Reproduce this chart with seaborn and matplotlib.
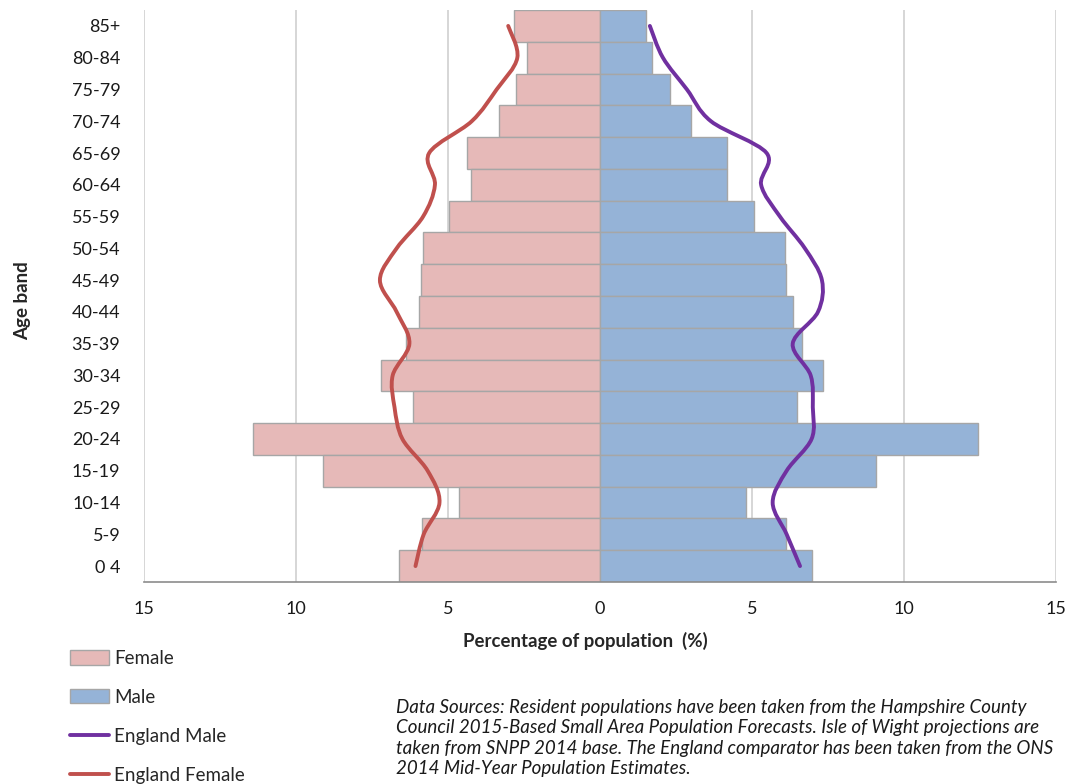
import numpy as np
import pandas as pd
import seaborn as sns
import matplotlib.pyplot as plt
from matplotlib.path import Path
from matplotlib.patches import PathPatch, Patch
from matplotlib.lines import Line2D

sns.set_theme(style="white")
plt.rcParams["font.family"] = ["Lato", "DejaVu Sans"]

# =========================
# Data (top row first)
# =========================
age_bands = ["85+", "80-84", "75-79", "70-74", "65-69", "60-64", "55-59", "50-54",
             "45-49", "40-44", "35-39", "30-34", "25-29", "20-24", "15-19",
             "10-14", "5-9", "0 4"]
female = [2.83, 2.39, 2.77, 3.33, 4.39, 4.25, 4.98, 5.83, 5.90, 5.94,
          6.38, 7.20, 6.14, 11.41, 9.12, 4.64, 5.87, 6.62]
male = [1.50, 1.70, 2.29, 2.98, 4.17, 4.19, 5.08, 6.09, 6.12, 6.34,
        6.64, 7.33, 6.47, 12.44, 9.08, 4.80, 6.12, 6.97]
england_female = [3.02, 2.72, 3.40, 4.22, 5.62, 5.43, 5.82, 6.69, 7.24, 6.69,
                  6.27, 6.82, 6.76, 6.50, 5.67, 5.28, 5.80, 6.07]
england_male = [1.64, 2.07, 2.86, 3.65, 5.48, 5.30, 5.92, 6.74, 7.30, 7.17,
                6.34, 6.93, 7.00, 6.96, 6.14, 5.68, 6.14, 6.58]
x_ticks = [-15, -10, -5, 0, 5, 10, 15]

female_col = "#e6b9b8"
male_col = "#95b3d7"
eng_male_col = "#7030a0"
eng_female_col = "#c0504d"
edge_col = "#a6a6a6"

df = pd.DataFrame({"band": age_bands * 2,
                   "pct": [-v for v in female] + male,
                   "sex": ["Female"] * len(female) + ["Male"] * len(male)})


def smooth_path(xs, ys):
    # Excel-style smoothed line: Catmull-Rom segments as cubic Beziers
    pts = np.column_stack([xs, ys]).astype(float)
    ext = np.vstack([pts[0], pts, pts[-1]])
    verts = [pts[0]]
    codes = [Path.MOVETO]
    for i in range(1, len(ext) - 2):
        p0, p1, p2, p3 = ext[i - 1], ext[i], ext[i + 1], ext[i + 2]
        verts += [p1 + (p2 - p0) / 6, p2 - (p3 - p1) / 6, p2]
        codes += [Path.CURVE4] * 3
    return Path(verts, codes)


fig = plt.figure(figsize=(10.7, 7.84), dpi=100)
ax = fig.add_axes([0.1346, 0.2577, 0.8523, 0.7295])

sns.barplot(data=df, x="pct", y="band", hue="sex", order=age_bands,
            palette={"Female": female_col, "Male": male_col}, saturation=1,
            orient="h", width=1.0, dodge=False, edgecolor=edge_col,
            linewidth=1.0, legend=False, ax=ax, zorder=2)

ypos = np.arange(len(age_bands))
ax.add_patch(PathPatch(smooth_path(england_male, ypos), facecolor="none",
                       edgecolor=eng_male_col, lw=2.8, capstyle="round", zorder=4))
ax.add_patch(PathPatch(smooth_path([-v for v in england_female], ypos), facecolor="none",
                       edgecolor=eng_female_col, lw=2.8, capstyle="round", zorder=4))

ax.set_xlim(-15, 15)
ax.set_ylim(len(age_bands) - 0.5, -0.5)
ax.set_xticks(x_ticks)
ax.set_xticklabels([str(abs(t)) for t in x_ticks], fontsize=13, color="#1a1a1a")
ax.tick_params(axis="x", length=6, width=1, color="#bfbfbf", direction="out", pad=8)
ax.tick_params(axis="y", length=0, labelsize=13, labelcolor="#1a1a1a", pad=17)
ax.xaxis.grid(True, color="#d0d0d0", lw=1.2, zorder=0)
ax.set_axisbelow(True)
for side in ["left", "right", "top"]:
    ax.spines[side].set_visible(False)
ax.spines["bottom"].set_color("#8c8c8c")
ax.spines["bottom"].set_linewidth(1.2)
ax.set_xlabel("")
ax.set_ylabel("")

fig.text(0.547, 0.182, "Percentage of population  (%)", fontsize=13.4,
         fontweight="bold", ha="center", va="center")
fig.text(0.021, 0.617, "Age band", fontsize=13.5, fontweight="bold",
         rotation=90, ha="center", va="center")

handles = [Patch(facecolor=female_col, edgecolor=edge_col, label="Female"),
           Patch(facecolor=male_col, edgecolor=edge_col, label="Male"),
           Line2D([], [], color=eng_male_col, lw=2.8, label="England Male"),
           Line2D([], [], color=eng_female_col, lw=2.8, label="England Female")]
fig.legend(handles=handles, loc="upper left", bbox_to_anchor=(0.0565, 0.183),
           frameon=False, fontsize=13.5, labelspacing=1.17, handlelength=2.1,
           handleheight=0.8, handletextpad=0.28, borderpad=0)

note = ("Data Sources: Resident populations have been taken from the Hampshire County\n"
        "Council 2015-Based Small Area Population Forecasts. Isle of Wight projections are\n"
        "taken from SNPP 2014 base. The England comparator has been taken from the ONS\n"
        "2014 Mid-Year Population Estimates.")
fig.text(0.370, 0.0587, note, fontsize=13.5, style="italic", ha="left", va="center",
         linespacing=1.24, color="#1a1a1a")

fig.savefig("out.png", dpi=100)
